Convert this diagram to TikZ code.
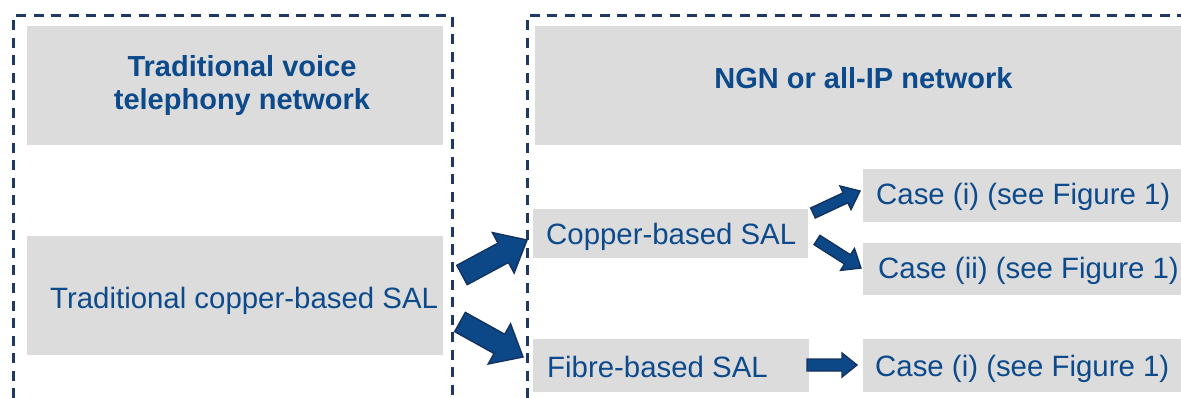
\documentclass[tikz,border=0pt]{standalone}
\usepackage{fontspec}
\setmainfont{Liberation Sans}
\usetikzlibrary{calc}

\definecolor{navy}{RGB}{31,56,100}
\definecolor{boxgray}{RGB}{220,220,220}
\definecolor{txtblue}{RGB}{12,74,140}
\definecolor{arrowfill}{RGB}{12,72,135}
\definecolor{arrowline}{RGB}{20,50,95}

% fat block arrow from tail #1 to tip #2:
% #3 shaft half-width, #4 head half-width, #5 head length
\newcommand\fatarrow[5]{%
  \coordinate (fa-base) at ($(#2)!#5!(#1)$);
  \filldraw[arrowbody]
    ($(#1)!#3!90:(#2)$) -- ($(fa-base)!#3!90:(#2)$) -- ($(fa-base)!#4!90:(#2)$)
    -- (#2)
    -- ($(fa-base)!#4!-90:(#2)$) -- ($(fa-base)!#3!-90:(#2)$) -- ($(#1)!#3!-90:(#2)$)
    -- cycle;
}

\tikzset{
  graybox/.style={fill=boxgray, draw=none, inner sep=0pt, outer sep=0pt},
  label/.style={text=txtblue, inner sep=0pt, font=\fontsize{29.4}{35}\selectfont},
  title/.style={label, font=\fontsize{29}{33}\selectfont\bfseries, align=center},
  frame/.style={draw=navy, line width=3pt, dash pattern=on 10pt off 7.5pt},
  arrowbody/.style={fill=arrowfill, draw=arrowline, line width=1.4pt, line join=miter},
}

\begin{document}
\begin{tikzpicture}[x=1pt, y=-1pt]
  \useasboundingbox (0,0) rectangle (1181,398);

  % dashed group frames (open at the bottom / right)
  \draw[frame] (13.5,398) -- (13.5,15.5) -- (452,15.5) -- (452,398);
  \draw[frame] (527,398) -- (527,15.5) -- (1181,15.5);

  % grey boxes
  \path[graybox] (27,26) rectangle (443,145) node[pos=.5] (legacyhead) {};
  \path[graybox] (535,26) rectangle (1181,145) node[pos=.5] (ngnhead) {};
  \path[graybox] (27,236) rectangle (443,355) node[pos=.5] (legacy) {};
  \path[graybox] (533,209) rectangle (808,258) node[pos=.5] (copper) {};
  \path[graybox] (533,339) rectangle (809,392) node[pos=.5] (fibre) {};
  \path[graybox] (863,169) rectangle (1181,222) node[pos=.5] (caseA) {};
  \path[graybox] (863,243) rectangle (1181,295) node[pos=.5] (caseB) {};
  \path[graybox] (863,339) rectangle (1181,392) node[pos=.5] (caseC) {};

  % headings (base anchor sits on the last line)
  \node[title, anchor=base] (legacyhead-t) at (242,110) {Traditional voice\\telephony network};
  \node[title, anchor=base] (ngnhead-t) at (863.5,89) {NGN or all-IP network};

  % box texts
  \node[label, anchor=base west] (legacy-t) at (50,308) {Traditional copper-based SAL};
  \node[label, anchor=base west] (copper-t) at (546,245) {Copper-based SAL};
  \node[label, anchor=base west] (fibre-t) at (547,377) {Fibre-based SAL};
  \node[label, anchor=base west] (caseA-t) at (876,205) {Case (i) (see Figure 1)};
  \node[label, anchor=base west] (caseB-t) at (878,279) {Case (ii) (see Figure 1)};
  \node[label, anchor=base west] (caseC-t) at (875,376) {Case (i) (see Figure 1)};

  % arrow end points
  \coordinate (a1-tail) at (462,275);
  \coordinate (a1-tip)  at (527,240);
  \coordinate (a2-tail) at (460,322);
  \coordinate (a2-tip)  at (523,357);
  \coordinate (s1-tail) at (813,213);
  \coordinate (s1-tip)  at (860,191);
  \coordinate (s2-tail) at (817,240);
  \coordinate (s2-tip)  at (861,268);
  \coordinate (s3-tail) at (807,365);
  \coordinate (s3-tip)  at (857,365);

  % block arrows
  \fatarrow{a1-tail}{a1-tip}{11pt}{23pt}{27pt}
  \fatarrow{a2-tail}{a2-tip}{11pt}{23pt}{27pt}
  \fatarrow{s1-tail}{s1-tip}{5.5pt}{13pt}{16pt}
  \fatarrow{s2-tail}{s2-tip}{5.5pt}{13pt}{16pt}
  \fatarrow{s3-tail}{s3-tip}{6pt}{12pt}{15pt}
\end{tikzpicture}
\end{document}
